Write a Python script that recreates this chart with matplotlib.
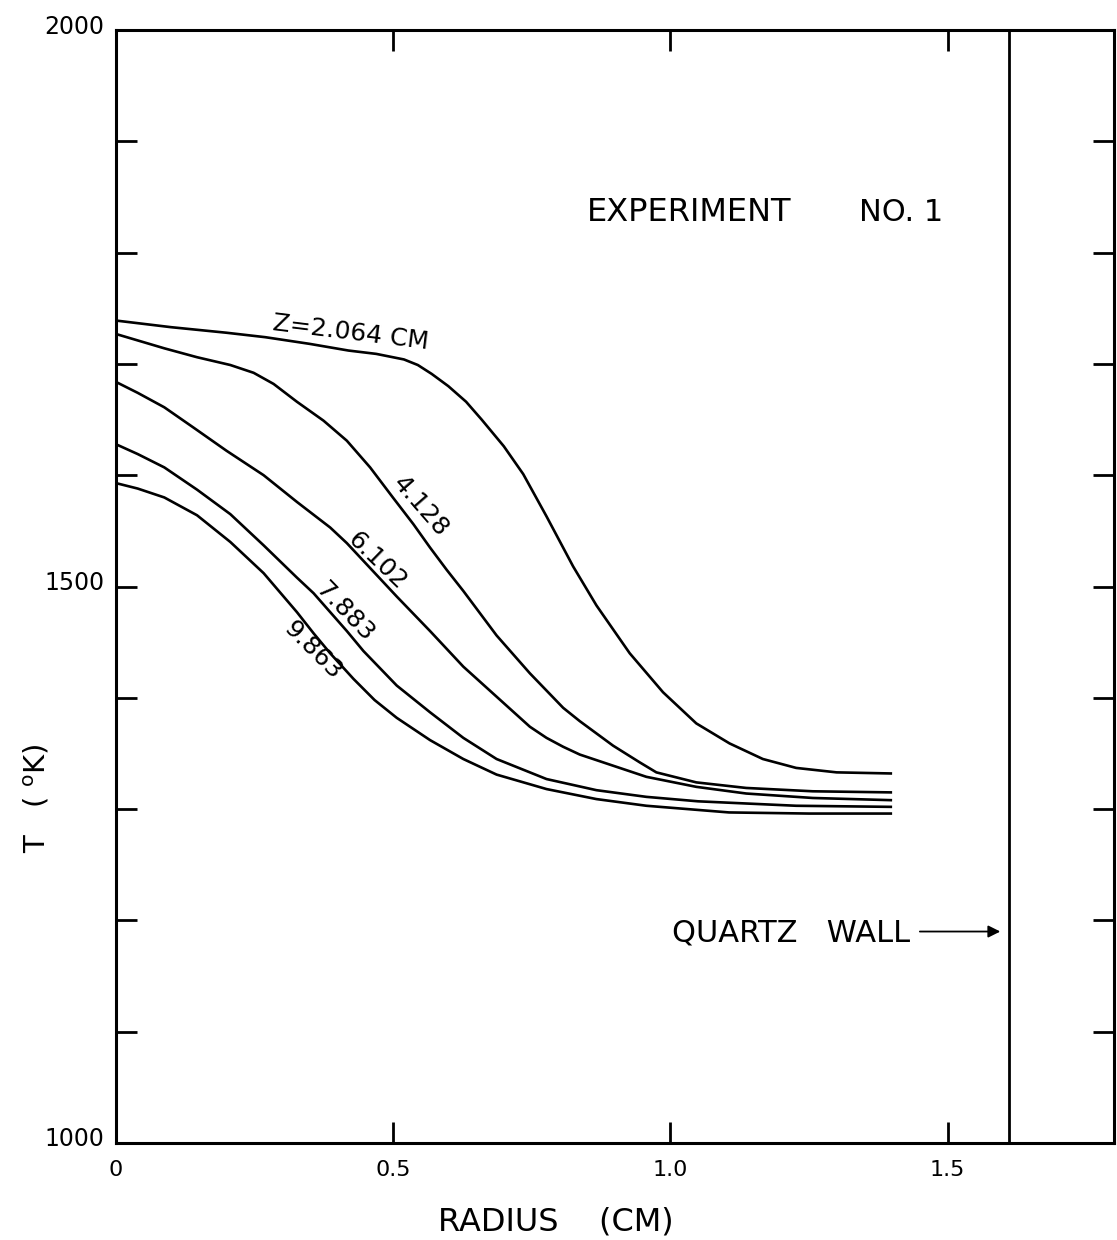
import matplotlib
matplotlib.use("Agg")
import matplotlib.pyplot as plt
from matplotlib.transforms import ScaledTranslation

# ---------------- data ----------------
radius_z2064 = [0, 0.1, 0.2, 0.27, 0.35, 0.42, 0.47, 0.5, 0.52, 0.545, 0.57, 0.6, 0.632, 0.66, 0.7,
                0.735, 0.777, 0.825, 0.867, 0.927, 0.987, 1.047, 1.107, 1.167, 1.227, 1.3, 1.4]
temp_z2064 = [1739, 1733, 1728, 1724, 1718, 1712, 1709, 1706, 1704, 1699, 1691, 1680, 1666, 1650, 1626,
              1601, 1563, 1518, 1483, 1440, 1405, 1377, 1359, 1345, 1337, 1333, 1332]

radius_z4128 = [0, 0.088, 0.147, 0.207, 0.249, 0.285, 0.327, 0.375, 0.417, 0.459, 0.5, 0.537,
                0.567, 0.597, 0.627, 0.687, 0.747, 0.807, 0.837, 0.867, 0.897, 0.945, 0.975,
                1.047, 1.137, 1.257, 1.4]
temp_z4128 = [1727, 1714, 1706, 1699, 1692, 1682, 1666, 1649, 1631, 1607, 1580, 1556,
              1535, 1515, 1496, 1456, 1422, 1391, 1379, 1368, 1357, 1342, 1333,
              1324, 1319, 1316, 1315]

radius_z6102 = [0, 0.04, 0.088, 0.14, 0.2, 0.267, 0.327, 0.387, 0.417, 0.447, 0.477, 0.507, 0.567,
                0.597, 0.627, 0.687, 0.747, 0.777, 0.807, 0.837, 0.867, 0.897, 0.957, 1.047,
                1.137, 1.257, 1.4]
temp_z6102 = [1684, 1674, 1661, 1643, 1622, 1600, 1576, 1553, 1539, 1523, 1507, 1491, 1460,
              1444, 1428, 1401, 1374, 1364, 1356, 1349, 1344, 1339, 1329, 1320,
              1314, 1310, 1308]

radius_z7883 = [0, 0.04, 0.088, 0.147, 0.207, 0.267, 0.327, 0.357, 0.387, 0.417, 0.447,
                0.507, 0.567, 0.627, 0.687, 0.777, 0.867, 0.957, 1.05, 1.227, 1.4]
temp_z7883 = [1628, 1619, 1607, 1587, 1565, 1537, 1508, 1494, 1477, 1460, 1442,
              1411, 1387, 1364, 1345, 1327, 1317, 1311, 1307, 1303, 1302]

radius_z9863 = [0, 0.04, 0.088, 0.147, 0.207, 0.267, 0.327, 0.357, 0.387, 0.429, 0.467, 0.507,
                0.567, 0.627, 0.687, 0.777, 0.867, 0.957, 1.106, 1.25, 1.4]
temp_z9863 = [1593, 1588, 1580, 1564, 1540, 1512, 1477, 1458, 1440, 1417, 1398, 1382,
              1362, 1345, 1331, 1318, 1309, 1303, 1297, 1296, 1296]

curve_labels = ["Z=2.064 CM", "4.128", "6.102", "7.883", "9.863"]

quartz_wall_radius = 1.61

x_ticks = [0, 0.5, 1.0, 1.5]
x_tick_labels = ["0", "0.5", "1.0", "1.5"]
y_ticks = [1000, 1100, 1200, 1300, 1400, 1500, 1600, 1700, 1800, 1900, 2000]
y_tick_labels = ["1000", "", "", "", "", "1500", "", "", "", "", "2000"]

# ---------------- figure ----------------
plt.rcParams["font.family"] = ["DejaVu Sans"]
W, H = 1117, 1240
fig = plt.figure(figsize=(W / 100, H / 100), dpi=100)
ax = fig.add_axes([115.5 / W, 1 - 1143 / H, (1114 - 115.5) / W, (1143 - 30) / H])

curves = [(radius_z2064, temp_z2064), (radius_z4128, temp_z4128), (radius_z6102, temp_z6102),
          (radius_z7883, temp_z7883), (radius_z9863, temp_z9863)]
for r, t in curves:
    ax.plot(r, t, color="black", lw=1.9, solid_joinstyle="round", solid_capstyle="butt")

ax.axvline(quartz_wall_radius, color="black", lw=2.0)

ax.set_xlim(0, 1.8)
ax.set_ylim(1000, 2000)

ax.set_xticks(x_ticks)
ax.set_xticklabels(x_tick_labels, fontsize=16)
ax.set_yticks(y_ticks)
ax.set_yticklabels(y_tick_labels, fontsize=17)
ax.tick_params(axis="both", direction="in", length=15, width=2.0, top=True, right=True, colors="black")
ax.tick_params(axis="x", pad=12)
ax.tick_params(axis="y", pad=8)
# y tick labels sit slightly above their ticks in the reference
off = ScaledTranslation(0, 6 / 100, fig.dpi_scale_trans)
for lab in ax.get_yticklabels():
    lab.set_transform(lab.get_transform() + off)

for s in ax.spines.values():
    s.set_linewidth(2.2)

ax.set_xlabel("RADIUS    (CM)", fontsize=23, va="center")
ax.xaxis.set_label_coords(0.441, -0.071)
ax.set_ylabel(r"T   ( $^{\mathrm{o}}$K)", fontsize=21, va="center")
ax.yaxis.set_label_coords(-0.0786, 0.31)

# curve labels
lab_pos = [(0.424, 1728, -7), (0.55, 1572, -49), (0.4715, 1523, -44), (0.413, 1477, -46), (0.356, 1443, -45)]
for txt, (lx, ly, rot) in zip(curve_labels, lab_pos):
    ax.text(lx, ly, txt, fontsize=18, rotation=rot, rotation_mode="anchor",
            ha="center", va="center")

ax.text(0.850, 1836, "EXPERIMENT", fontsize=23, ha="left", va="center")
ax.text(1.340, 1836, "NO. 1", fontsize=22, ha="left", va="center")

ax.annotate("", xy=(1.60, 1190), xytext=(1.445, 1190),
            arrowprops=dict(arrowstyle="-|>", color="black", lw=1.3, mutation_scale=18))
ax.text(1.433, 1189, "QUARTZ   WALL", fontsize=22, ha="right", va="center")

fig.savefig("out.png", dpi=100, facecolor="white")
